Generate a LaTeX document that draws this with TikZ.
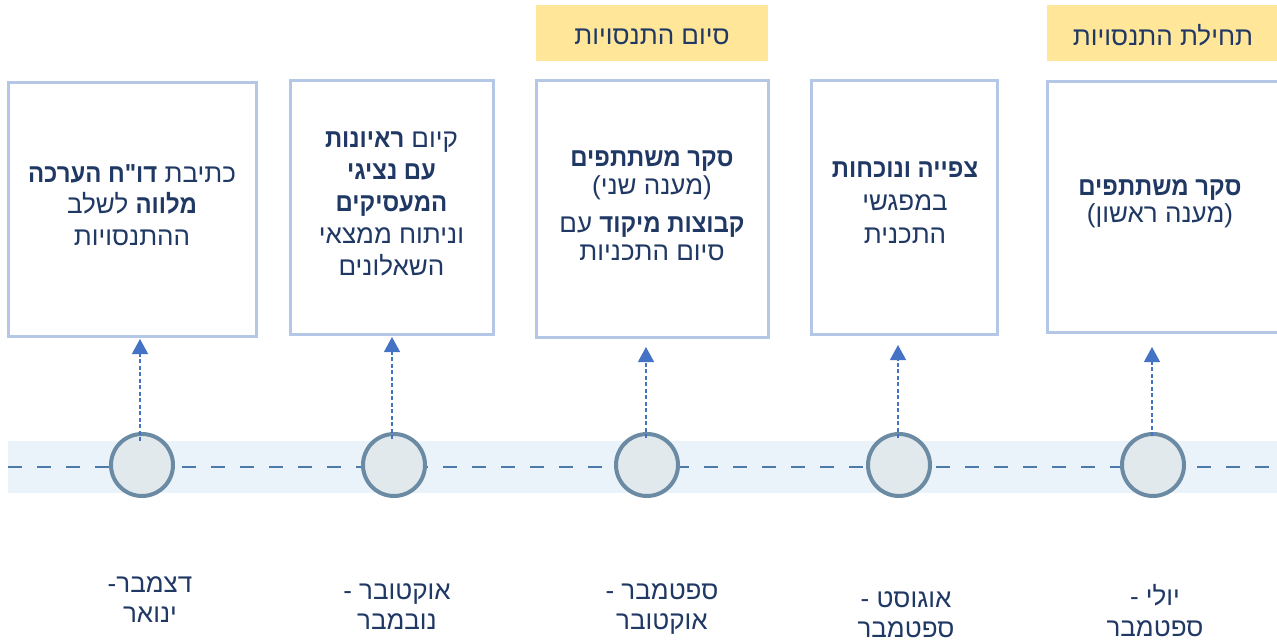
\documentclass[tikz,border=0pt]{standalone}
\usepackage{fontspec}
\setmainfont[Script=Hebrew, Ligatures=TeXOff, BoldFeatures={FakeStretch=0.92}]{Liberation Sans}
\TeXXeTstate=1
\usetikzlibrary{arrows.meta}
\definecolor{bandc}{HTML}{EAF3F9}
\definecolor{linec}{HTML}{4C7AAB}
\definecolor{circf}{HTML}{E1E9EC}
\definecolor{circd}{HTML}{6B8BA4}
\definecolor{boxd}{HTML}{B4C7E7}
\definecolor{arrc}{HTML}{4472C4}
\definecolor{txtc}{HTML}{203864}
\definecolor{headf}{HTML}{FFE699}
\newcommand{\rl}[1]{\beginR #1\endR}
\tikzset{
  x=1pt, y=-1pt,
  stagebox/.style={draw=boxd, line width=3pt, fill=white, inner sep=0pt},
  headbox/.style={fill=headf, inner sep=0pt},
  tick/.style={circle, draw=circd, line width=4pt, fill=circf, minimum size=62pt, inner sep=0pt},
  arr/.style={draw=arrc, line width=1.3pt, dash pattern=on 4pt off 2.5pt, -{Triangle[width=16pt,length=15pt]}},
  txt/.style={text=txtc, align=center, font=\fontsize{26}{32}\selectfont, inner sep=0pt},
}
\begin{document}
\begin{tikzpicture}
\useasboundingbox (0,0) rectangle (1277,643);
\clip (0,0) rectangle (1277,643);
% band
\fill[bandc] (8,441) rectangle (1290,493);
\coordinate (L) at (8,467);
\coordinate (R) at (1290,467);
\draw[linec, line width=2.4pt, dash pattern=on 14pt off 15pt] (L) -- (R);
% headers
\node[headbox, minimum width=232pt, minimum height=56pt] (h1) at (652,33) {};
\node[headbox, minimum width=240pt, minimum height=56pt] (h2) at (1167,33) {};
\node[txt] (ht1) at (652,36.5) {\rl{סיום התנסויות}};
\node[txt] (ht2) at (1163,35.5) {\rl{תחילת התנסויות}};
% boxes
\node[stagebox, minimum width=248pt, minimum height=254pt] (b1) at (132,209) {};
\node[stagebox, minimum width=203pt, minimum height=254pt] (b2) at (391.5,207) {};
\node[stagebox, minimum width=232pt, minimum height=257pt] (b3) at (652,208.5) {};
\node[stagebox, minimum width=186pt, minimum height=254pt] (b4) at (904,207) {};
\node[stagebox, minimum width=250pt, minimum height=251pt] (b5) at (1172,206.5) {};
% box texts
\node[txt, font=\fontsize{26}{31.5}\selectfont] (t1) at (132,205) {\rl{כתיבת \textbf{דו"ח הערכה}}\\ \rl{\textbf{מלווה} לשלב}\\ \rl{ההתנסויות}};
\node[txt] (t2) at (391.5,203.5) {\rl{קיום \textbf{ראיונות}}\\ \rl{\textbf{עם נציגי}}\\ \rl{\textbf{המעסיקים}}\\ \rl{וניתוח ממצאי}\\ \rl{השאלונים}};
\node[txt, font=\fontsize{26}{27.5}\selectfont] (t3) at (652,205.5) {\rl{\textbf{סקר משתתפים}}\\ \rl{(מענה שני)}\\[11pt] \rl{\textbf{קבוצות מיקוד} עם}\\ \rl{סיום התכניות}};
\node[txt, font=\fontsize{26}{33}\selectfont] (t4) at (905,203) {\rl{\textbf{צפייה ונוכחות}}\\ \rl{במפגשי}\\ \rl{התכנית}};
\node[txt, font=\fontsize{26}{27}\selectfont] (t5) at (1160,203.5) {\rl{\textbf{סקר משתתפים}}\\ \rl{(מענה ראשון)}};
% timeline circles
\node[tick] (c1) at (142,465) {};
\node[tick] (c2) at (394,465) {};
\node[tick] (c3) at (647,465) {};
\node[tick] (c4) at (899,465) {};
\node[tick] (c5) at (1153,465) {};
% arrow tips
\coordinate (a1) at (140,339);
\coordinate (a2) at (392,337);
\coordinate (a3) at (646,347);
\coordinate (a4) at (898,345);
\coordinate (a5) at (1152,347);
\draw[arr] ([yshift=-9pt]c1.north -| a1) -- (a1);
\draw[arr] ([yshift=-7pt]c2.north -| a2) -- (a2);
\draw[arr] ([yshift=-6pt]c3.north -| a3) -- (a3);
\draw[arr] ([yshift=-6pt]c4.north -| a4) -- (a4);
\draw[arr] ([yshift=-4pt]c5.north -| a5) -- (a5);
% dates
\node[txt, font=\fontsize{26}{30}\selectfont] (d1) at (150,600) {\rl{דצמבר-}\\ \rl{ינואר}};
\node[txt, font=\fontsize{26}{30}\selectfont] (d2) at (397,607) {\rl{אוקטובר -}\\ \rl{נובמבר}};
\node[txt, font=\fontsize{26}{30}\selectfont] (d3) at (662,609) {\rl{ספטמבר -}\\ \rl{אוקטובר}};
\node[txt, font=\fontsize{26}{30}\selectfont] (d4) at (906,615) {\rl{אוגוסט -}\\ \rl{ספטמבר}};
\node[txt, font=\fontsize{26}{31}\selectfont] (d5) at (1155,611) {\rl{יולי -}\\ \rl{ספטמבר}};
\end{tikzpicture}
\end{document}
